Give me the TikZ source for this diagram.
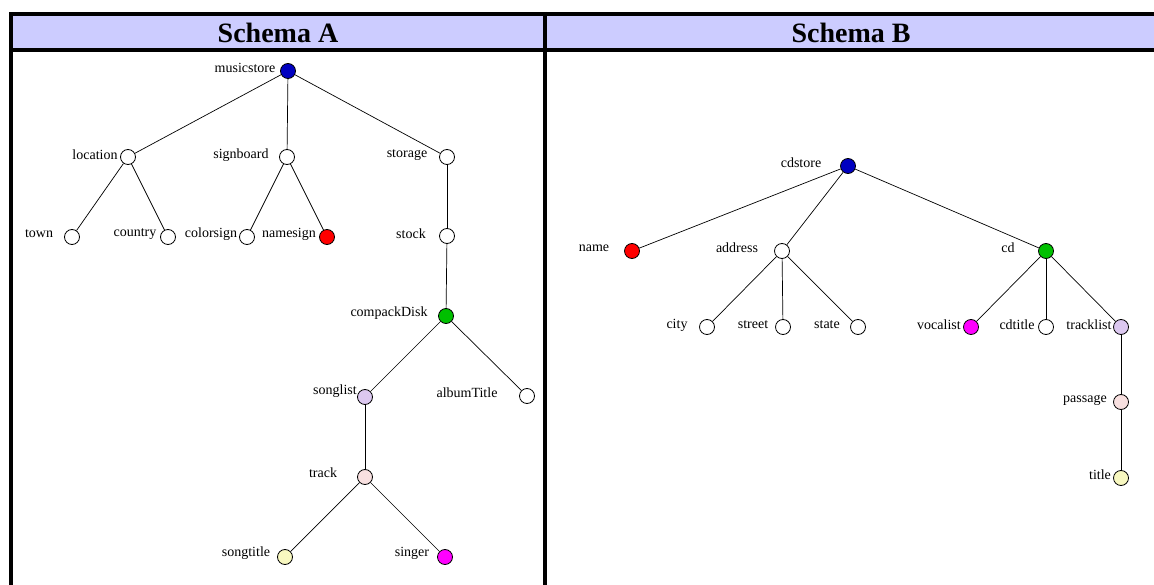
\documentclass[tikz,border=0pt]{standalone}
\usepackage{fontspec}
\setmainfont{Liberation Serif}
\definecolor{hdrfill}{RGB}{204,204,255}
\definecolor{cblue}{RGB}{0,0,192}
\definecolor{cred}{RGB}{255,0,0}
\definecolor{cgreen}{RGB}{0,192,0}
\definecolor{cmag}{RGB}{255,0,255}
\definecolor{clav}{RGB}{220,200,240}
\definecolor{cpink}{RGB}{248,224,224}
\definecolor{cyel}{RGB}{248,248,192}
\begin{document}
\begin{tikzpicture}[x=1pt,y=-1pt,
  nd/.style={circle,draw=black,line width=0.8pt,fill=white,minimum size=15pt,inner sep=0pt},
  lbl/.style={inner sep=0pt,font=\fontsize{14}{16}\selectfont},
  hdr/.style={inner sep=0pt,font=\fontsize{28}{30}\selectfont\bfseries},
  edge/.style={line width=0.7pt},
  frame/.style={line width=4pt}]
\useasboundingbox (0,0) rectangle (1154,585);
% header band and frame
\fill[hdrfill] (11,14) rectangle (1154,50);
\draw[frame] (11,585) -- (11,14) -- (1154,14);
\draw[frame] (9,50) -- (1154,50);
\draw[frame] (545,12) -- (545,585);
\node[hdr] (hA) at (278,33) {Schema A};
\node[hdr] (hB) at (851,33) {Schema B};

% Schema A tree
\node[nd,fill=cblue] (musicstore) at (288,71) {};
\node[nd] (location) at (128,157) {};
\node[nd] (signboard) at (287,157) {};
\node[nd] (storage) at (447,157) {};
\node[nd] (town) at (72,237) {};
\node[nd] (country) at (168,237) {};
\node[nd] (colorsign) at (247,237) {};
\node[nd,fill=cred] (namesign) at (327,237) {};
\node[nd] (stock) at (447,236) {};
\node[nd,fill=cgreen] (compackDisk) at (446,316) {};
\node[nd,fill=clav] (songlist) at (365,397) {};
\node[nd] (albumTitle) at (527,396) {};
\node[nd,fill=cpink] (track) at (365,477) {};
\node[nd,fill=cyel] (songtitle) at (285,557) {};
\node[nd,fill=cmag] (singer) at (445,557) {};

\node[lbl] (musicstore-l) at (245,68) {musicstore};
\node[lbl] (location-l) at (95,155) {location};
\node[lbl] (signboard-l) at (241,155) {signboard};
\node[lbl] (storage-l) at (407,155) {storage};
\node[lbl] (town-l) at (39,234) {town};
\node[lbl] (country-l) at (135,234) {country};
\node[lbl] (colorsign-l) at (211,234) {colorsign};
\node[lbl] (namesign-l) at (289,234) {namesign};
\node[lbl] (stock-l) at (411,234) {stock};
\node[lbl] (compackDisk-l) at (389,313) {compackDisk};
\node[lbl] (songlist-l) at (335,391) {songlist};
\node[lbl] (albumTitle-l) at (467,393) {albumTitle};
\node[lbl] (track-l) at (323,473) {track};
\node[lbl] (songtitle-l) at (246,553) {songtitle};
\node[lbl] (singer-l) at (412,553) {singer};

\draw[edge] (musicstore) -- (location);
\draw[edge] (musicstore) -- (signboard);
\draw[edge] (musicstore) -- (storage);
\draw[edge] (location) -- (town);
\draw[edge] (location) -- (country);
\draw[edge] (signboard) -- (colorsign);
\draw[edge] (signboard) -- (namesign);
\draw[edge] (storage) -- (stock);
\draw[edge] (stock) -- (compackDisk);
\draw[edge] (compackDisk) -- (songlist);
\draw[edge] (compackDisk) -- (albumTitle);
\draw[edge] (songlist) -- (track);
\draw[edge] (track) -- (songtitle);
\draw[edge] (track) -- (singer);

% Schema B tree
\node[nd,fill=cblue] (cdstore) at (848,166) {};
\node[nd,fill=cred] (name) at (632,251) {};
\node[nd] (address) at (782,251) {};
\node[nd,fill=cgreen] (cd) at (1046,251) {};
\node[nd] (city) at (707,327) {};
\node[nd] (street) at (783,327) {};
\node[nd] (state) at (858,327) {};
\node[nd,fill=cmag] (vocalist) at (971,327) {};
\node[nd] (cdtitle) at (1046,327) {};
\node[nd,fill=clav] (tracklist) at (1121,327) {};
\node[nd,fill=cpink] (passage) at (1121,402) {};
\node[nd,fill=cyel] (title) at (1121,478) {};

\node[lbl] (cdstore-l) at (801,163) {cdstore};
\node[lbl] (name-l) at (594,248) {name};
\node[lbl] (address-l) at (737,248) {address};
\node[lbl] (cd-l) at (1008,248) {cd};
\node[lbl] (city-l) at (677,325) {city};
\node[lbl] (street-l) at (753,325) {street};
\node[lbl] (state-l) at (827,325) {state};
\node[lbl] (vocalist-l) at (939,325) {vocalist};
\node[lbl] (cdtitle-l) at (1017,325) {cdtitle};
\node[lbl] (tracklist-l) at (1089,325) {tracklist};
\node[lbl] (passage-l) at (1085,400) {passage};
\node[lbl] (title-l) at (1100,475) {title};

\draw[edge] (cdstore) -- (name);
\draw[edge] (cdstore) -- (address);
\draw[edge] (cdstore) -- (cd);
\draw[edge] (address) -- (city);
\draw[edge] (address) -- (street);
\draw[edge] (address) -- (state);
\draw[edge] (cd) -- (vocalist);
\draw[edge] (cd) -- (cdtitle);
\draw[edge] (cd) -- (tracklist);
\draw[edge] (tracklist) -- (passage);
\draw[edge] (passage) -- (title);
\end{tikzpicture}
\end{document}
